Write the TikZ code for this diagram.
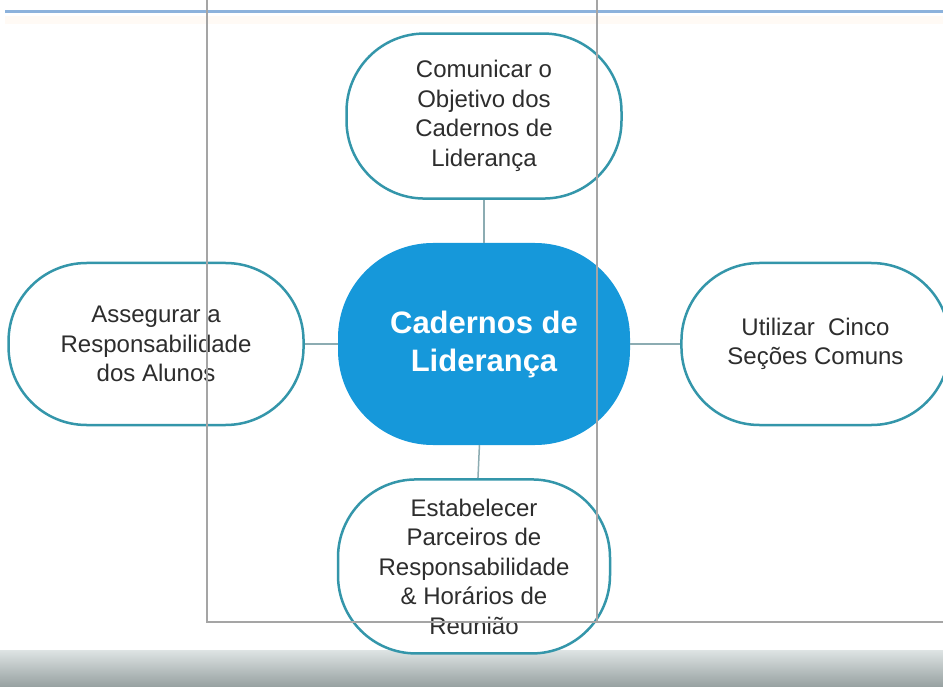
\documentclass[tikz,border=0pt]{standalone}
\usepackage{fontspec}
\setmainfont{Liberation Sans}
\usetikzlibrary{positioning}
\definecolor{hubblue}{RGB}{22,152,218}
\definecolor{rimteal}{RGB}{52,150,170}
\definecolor{linkgray}{RGB}{140,172,178}
\definecolor{framegray}{RGB}{165,165,165}
\definecolor{topblue}{RGB}{140,178,220}
\definecolor{leaftext}{RGB}{45,45,45}
\definecolor{bandtop}{RGB}{222,228,228}
\definecolor{bandbottom}{RGB}{150,160,160}

\begin{document}
\begin{tikzpicture}[
  x=1pt, y=-1pt,
  node distance=33pt,
  hub/.style={fill=hubblue, text=white, rounded corners=95pt, minimum width=292pt, minimum height=202pt, align=center, font=\fontsize{31}{38}\selectfont\bfseries},
  leaf/.style={draw=rimteal, line width=2.5pt, fill=white, rounded corners=78pt, align=center, text=leaftext, font=\fontsize{24}{29.5}\selectfont},
  link/.style={draw=linkgray, line width=1.5pt},
  frame/.style={draw=framegray, line width=2pt}
]
\useasboundingbox (0,0) rectangle (943,687);
\fill[white] (0,0) rectangle (943,687);
\fill[orange!4] (5,16) rectangle (943,24);
\draw[topblue, line width=3pt] (5,12) -- (943,12);
\shade[top color=bandtop, bottom color=bandbottom] (0,650) rectangle (943,687);

\node[hub] (hub) at (484,344) {Cadernos de\\Liderança};
\node[leaf, minimum width=275pt, minimum height=165pt, above=43pt of hub] (goal) {Comunicar o\\Objetivo dos\\Cadernos de\\Liderança};
\node[leaf, minimum width=295pt, minimum height=162pt, left=33pt of hub] (duty) {Assegurar a\\Responsabilidade\\dos Alunos};
\node[leaf, minimum width=268pt, minimum height=162pt, right=50pt of hub] (sections) {Utilizar\ \ Cinco\\Seções Comuns};
\node[leaf, minimum width=272pt, minimum height=174pt, below=33pt of hub, xshift=-10pt] (partners) {Estabelecer\\Parceiros de\\Responsabilidade\\\& Horários de\\Reunião};

\draw[link] (goal) -- (hub);
\draw[link] (hub) -- (partners);
\draw[link] (duty) -- (hub);
\draw[link] (hub) -- (sections);

\draw[frame] (207,-5) -- (207,622) -- (950,622);
\draw[frame] (597,-5) -- (597,622);
\end{tikzpicture}
\end{document}
